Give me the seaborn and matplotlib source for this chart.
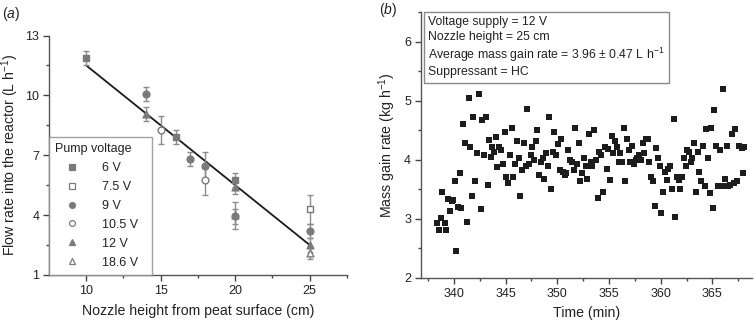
import numpy as np
import pandas as pd
import seaborn as sns
import matplotlib.pyplot as plt
from matplotlib.lines import Line2D

# ---- panel (a): flow rate vs nozzle height, one list per pump voltage ----
v6_x = [10, 16, 20]
v6_y = [11.87, 7.91, 5.75]
v6_err = [0.37, 0.33, 0.35]

v75_x = [25]
v75_y = [4.29]
v75_err = [0.72]

v9_x = [14, 17, 18, 20, 25]
v9_y = [10.06, 6.80, 6.47, 3.94, 3.21]
v9_err = [0.34, 0.35, 0.68, 0.37, 0.35]

v105_x = [15, 18]
v105_y = [8.26, 5.75]
v105_err = [0.70, 0.74]

v12_x = [14, 20, 20, 25]
v12_y = [9.06, 5.40, 3.98, 2.49]
v12_err = [0.35, 0.35, 0.68, 0.35]

v186_x = [25]
v186_y = [2.12]
v186_err = [0.33]

# fitted line (end points)
fit_x = [10, 25]
fit_y = [11.5, 2.5]

# ---- panel (b): mass gain rate vs time ----
time_min = [
    338.42, 338.58, 338.74, 338.90, 339.10, 339.26, 339.40, 339.60, 339.80, 339.93,
    340.10, 340.23, 340.39, 340.58, 340.74, 340.90, 341.06, 341.26, 341.42, 341.58,
    341.74, 341.90, 342.06, 342.23, 342.42, 342.58, 342.74, 342.90, 343.07, 343.26,
    343.42, 343.58, 343.71, 343.90, 344.04, 344.22, 344.41, 344.58, 344.74, 344.90,
    345.06, 345.22, 345.39, 345.58, 345.74, 345.90, 346.07, 346.26, 346.42, 346.58,
    346.74, 346.93, 347.10, 347.26, 347.42, 347.58, 347.74, 347.90, 348.07, 348.26,
    348.42, 348.58, 348.74, 348.90, 349.07, 349.23, 349.39, 349.55, 349.71, 349.90,
    350.07, 350.23, 350.39, 350.55, 350.71, 350.87, 351.07, 351.23, 351.39, 351.58,
    351.74, 351.90, 352.07, 352.23, 352.39, 352.58, 352.74, 352.90, 353.07, 353.23,
    353.39, 353.58, 353.74, 353.90, 354.07, 354.26, 354.45, 354.61, 354.77, 354.93,
    355.09, 355.26, 355.42, 355.58, 355.77, 355.93, 356.09, 356.26, 356.42, 356.59,
    356.75, 356.91, 357.07, 357.23, 357.40, 357.59, 357.75, 357.91, 358.07, 358.24,
    358.40, 358.59, 358.75, 358.91, 359.07, 359.23, 359.40, 359.56, 359.75, 359.91,
    360.07, 360.24, 360.40, 360.56, 360.75, 360.91, 361.07, 361.24, 361.40, 361.56,
    361.72, 361.91, 362.07, 362.24, 362.40, 362.56, 362.72, 362.88, 363.07, 363.24,
    363.40, 363.56, 363.72, 363.88, 364.04, 364.24, 364.40, 364.56, 364.72, 364.88,
    365.04, 365.20, 365.36, 365.56, 365.72, 365.88, 366.04, 366.20, 366.40, 366.55,
    366.70, 366.90, 367.05, 367.20, 367.40, 367.55, 367.85, 368.00, 368.10,
]
mass_rate = [
    2.92, 2.81, 3.02, 3.45, 2.92, 2.81, 3.34, 3.13, 3.30, 3.32,
    3.64, 2.45, 3.20, 3.78, 3.18, 4.60, 4.29, 2.95, 5.05, 4.22,
    3.38, 4.72, 3.64, 4.11, 5.11, 3.16, 4.68, 4.08, 4.72, 3.57,
    4.33, 4.04, 4.22, 4.14, 4.39, 3.88, 4.21, 4.17, 3.93, 4.47,
    3.71, 3.60, 4.08, 4.54, 3.71, 3.93, 4.32, 4.03, 3.38, 3.82,
    4.28, 3.89, 4.86, 3.93, 4.08, 4.21, 3.99, 4.32, 4.50, 3.74,
    3.96, 4.03, 3.67, 4.11, 3.89, 4.72, 3.50, 4.14, 4.47, 4.08,
    4.26, 3.82, 4.36, 3.79, 3.74, 3.77, 4.17, 3.99, 3.96, 3.82,
    4.54, 3.93, 4.29, 3.64, 3.77, 4.03, 3.89, 3.67, 4.44, 3.96,
    3.89, 4.50, 3.99, 3.35, 4.14, 4.08, 3.46, 4.22, 3.85, 4.19,
    3.66, 4.41, 4.11, 4.32, 4.21, 3.96, 4.11, 3.96, 4.54, 3.64,
    4.36, 4.17, 3.96, 4.24, 3.93, 3.99, 4.03, 4.08, 3.99, 4.28,
    4.11, 4.36, 4.36, 3.96, 3.71, 3.64, 3.21, 4.20, 4.03, 3.89,
    3.09, 3.46, 3.79, 3.66, 3.85, 3.89, 3.51, 4.69, 3.03, 3.71,
    3.66, 3.51, 3.71, 4.03, 3.89, 4.17, 4.14, 3.96, 4.03, 4.28,
    3.46, 4.14, 3.79, 3.64, 4.24, 3.55, 4.53, 4.03, 3.44, 4.54,
    3.18, 4.84, 4.24, 3.55, 4.17, 3.55, 5.20, 3.68, 4.24, 3.55,
    3.58, 4.44, 3.60, 4.53, 3.64, 4.24, 4.20, 3.78, 4.22,
]

info_lines = ['Voltage supply = 12 V',
              'Nozzle height = 25 cm',
              'Average mass gain rate = 3.96 ± 0.47 L h$^{-1}$',
              'Suppressant = HC']

sns.set_style('ticks')
plt.rcParams['font.family'] = ['Liberation Sans', 'DejaVu Sans']
plt.rcParams['mathtext.fontset'] = 'custom'
plt.rcParams['mathtext.rm'] = 'Liberation Sans'
plt.rcParams['mathtext.it'] = 'Liberation Sans:italic'
plt.rcParams['text.color'] = '#222222'
plt.rcParams['axes.labelcolor'] = '#222222'
plt.rcParams['xtick.color'] = '#444444'
plt.rcParams['ytick.color'] = '#444444'
plt.rcParams['xtick.labelcolor'] = '#222222'
plt.rcParams['ytick.labelcolor'] = '#222222'

fig = plt.figure(figsize=(7.54, 3.23), dpi=100)
ax1 = fig.add_axes([0.065, 0.149, 0.395, 0.741])
ax2 = fig.add_axes([0.558, 0.140, 0.439, 0.822])

grey = '#7a7a7a'
series = [
    ('6 V', v6_x, v6_y, v6_err, 's', grey, grey),
    ('7.5 V', v75_x, v75_y, v75_err, 's', 'white', grey),
    ('9 V', v9_x, v9_y, v9_err, 'o', grey, grey),
    ('10.5 V', v105_x, v105_y, v105_err, 'o', 'white', grey),
    ('12 V', v12_x, v12_y, v12_err, '^', grey, grey),
    ('18.6 V', v186_x, v186_y, v186_err, '^', 'white', grey),
]

# fit line first so markers sit on top
sns.lineplot(x=fit_x, y=fit_y, ax=ax1, color='#1a1a1a', linewidth=1.3)

handles = []
for lab, xs, ys, es, mk, fc, ec in series:
    ax1.errorbar(xs, ys, yerr=es, fmt='none', ecolor='#8c8c8c',
                 elinewidth=1.0, capsize=2.5, capthick=1.0, zorder=3)
    df = pd.DataFrame({'x': xs, 'y': ys})
    sns.scatterplot(data=df, x='x', y='y', ax=ax1, marker=mk, s=24,
                    color=fc, edgecolor=ec, linewidth=1.0, zorder=4)
    handles.append(Line2D([], [], linestyle='none', marker=mk, markersize=4.2,
                          markerfacecolor=fc, markeredgecolor=ec,
                          markeredgewidth=0.9, label=lab))

ax1.set_xlim(7.5, 27.5)
ax1.set_ylim(1, 13)
ax1.set_xticks([10, 15, 20, 25])
ax1.set_xticks([12.5, 17.5, 22.5, 27.5], minor=True)
ax1.set_yticks([1, 4, 7, 10, 13])
ax1.set_yticks([2.5, 5.5, 8.5, 11.5], minor=True)
ax1.set_xlabel('Nozzle height from peat surface (cm)', fontsize=10.2, labelpad=5)
ax1.set_ylabel('Flow rate into the reactor (L h$^{-1}$)', fontsize=10.2, labelpad=3)

leg = ax1.legend(handles=handles, title='Pump voltage', loc='lower left',
                 bbox_to_anchor=(0, 0, 0.346, 0.5), mode='expand',
                 borderaxespad=0, frameon=True,
                 fancybox=False, fontsize=9, title_fontsize=9,
                 handlelength=2.7, handletextpad=1.0, labelspacing=0.55,
                 borderpad=0.5)
leg._legend_box.align = 'left'
leg.get_frame().set_edgecolor('#8a8a8a')
leg.get_frame().set_linewidth(1.0)

# ---- panel (b) ----
sns.scatterplot(x=time_min, y=mass_rate, ax=ax2, marker='s', s=16,
                color='#1c1c1c', linewidth=0)
ax2.set_xlim(336.8, 368.8)
ax2.set_ylim(2, 6.5)
ax2.set_xticks([340, 345, 350, 355, 360, 365])
ax2.set_xticks([337.5, 342.5, 347.5, 352.5, 357.5, 362.5, 367.5], minor=True)
ax2.set_yticks([2, 3, 4, 5, 6])
ax2.set_yticks([2.5, 3.5, 4.5, 5.5, 6.5], minor=True)
ax2.set_xlabel('Time (min)', fontsize=10.2, labelpad=5)
ax2.set_ylabel('Mass gain rate (kg h$^{-1}$)', fontsize=10.2, labelpad=4)

ax2.text(0.023, 0.985, '\n'.join(info_lines), transform=ax2.transAxes,
         fontsize=8.8, va='top', ha='left', linespacing=1.25,
         bbox=dict(boxstyle='square,pad=0.35', facecolor='white',
                   edgecolor='#8a8a8a', linewidth=1.0))

for ax in (ax1, ax2):
    sns.despine(ax=ax)
    for s in ('left', 'bottom'):
        ax.spines[s].set_color('#555555')
        ax.spines[s].set_linewidth(1.0)
    ax.tick_params(which='major', labelsize=9, length=4, width=1.0, pad=3)
    ax.tick_params(which='minor', length=2.5, width=1.0)

fig.text(0.003, 0.985, r'($\it{a}$)', fontsize=10, va='top')
fig.text(0.503, 0.998, r'($\it{b}$)', fontsize=10, va='top')

fig.savefig('out.png', dpi=100)
